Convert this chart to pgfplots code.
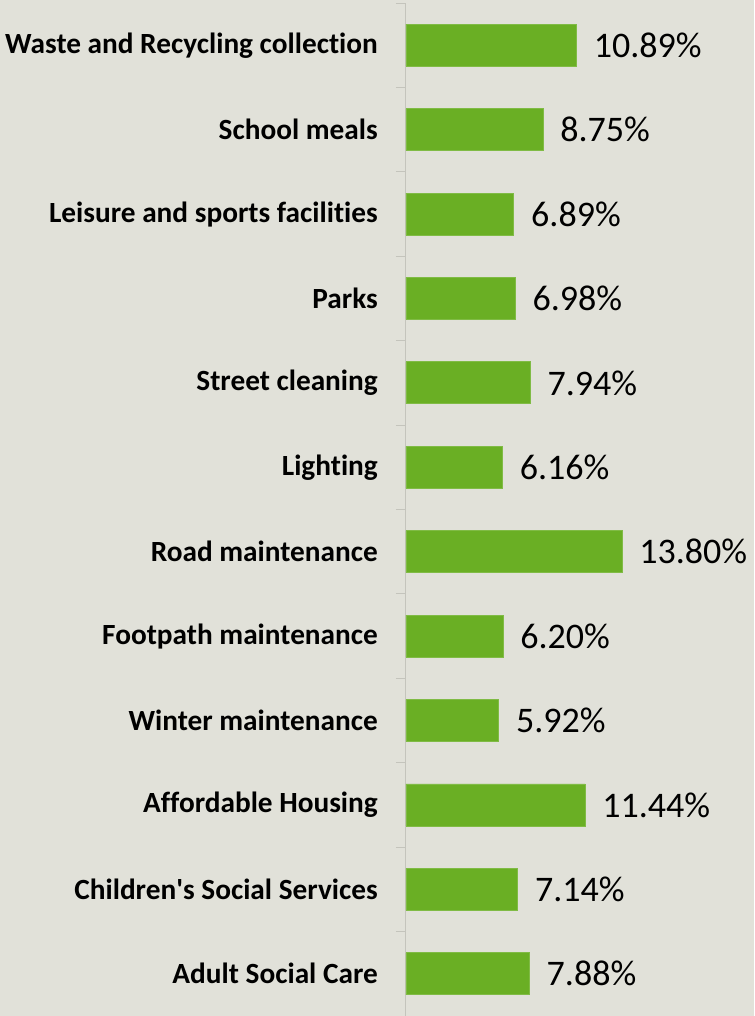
\documentclass[border=0pt]{standalone}
\usepackage{pgfplots}
\pgfplotsset{compat=1.18}
\usepackage{fontspec}
\setmainfont{Carlito}[Ligatures={NoCommon}]
\definecolor{bg}{HTML}{E1E1D9}
\definecolor{barg}{HTML}{6AAF24}
\definecolor{axisgray}{HTML}{C4C4BC}
\begin{document}
\begin{tikzpicture}
\fill[bg] (-406pt,0pt) rectangle (348pt,1016pt);
\path[use as bounding box] (-406pt,0pt) rectangle (348pt,1016pt);
\begin{axis}[
  at={(0pt,0pt)}, anchor=south west,
  scale only axis, width=348pt, height=1013pt,
  xbar, bar width=42pt,
  xmin=0, xmax=22.24, ymin=-0.5, ymax=11.5, y dir=reverse,
  axis x line=none, axis y line=left,
  axis line style={draw=axisgray, line width=1pt, -},
  ytick={0,...,11},
  minor ytick={-0.5,0.5,...,11.5},
  major tick length=0pt, minor tick length=10pt,
  tick align=outside, ytick pos=left,
  minor tick style={draw=axisgray, line width=1pt},
  yticklabels={Waste and Recycling collection, School meals, Leisure and sports facilities, Parks, Street cleaning, Lighting, Road maintenance, Footpath maintenance, Winter maintenance, Affordable Housing, Children\textquotesingle s Social Services, Adult Social Care},
  yticklabel style={font=\bfseries\fontsize{29.3}{29.3}\selectfont, anchor=east, inner sep=0pt, xshift=-28pt},
  /pgf/number format/assume math mode=true,
  point meta=x,
  nodes near coords={\pgfmathprintnumber[fixed,fixed zerofill,precision=2,assume math mode=true]{\pgfplotspointmeta}\%},
  every node near coord/.append style={font=\fontsize{36}{36}\selectfont, anchor=west, inner sep=0pt, xshift=17pt, text=black},
  clip=false,
]
\addplot[fill=barg, draw=barg!85!white, line width=0.8pt] coordinates {
(10.89,0) (8.75,1) (6.89,2) (6.98,3) (7.94,4) (6.16,5) (13.80,6) (6.20,7) (5.92,8) (11.44,9) (7.14,10) (7.88,11)
};
\end{axis}
\end{tikzpicture}
\end{document}
